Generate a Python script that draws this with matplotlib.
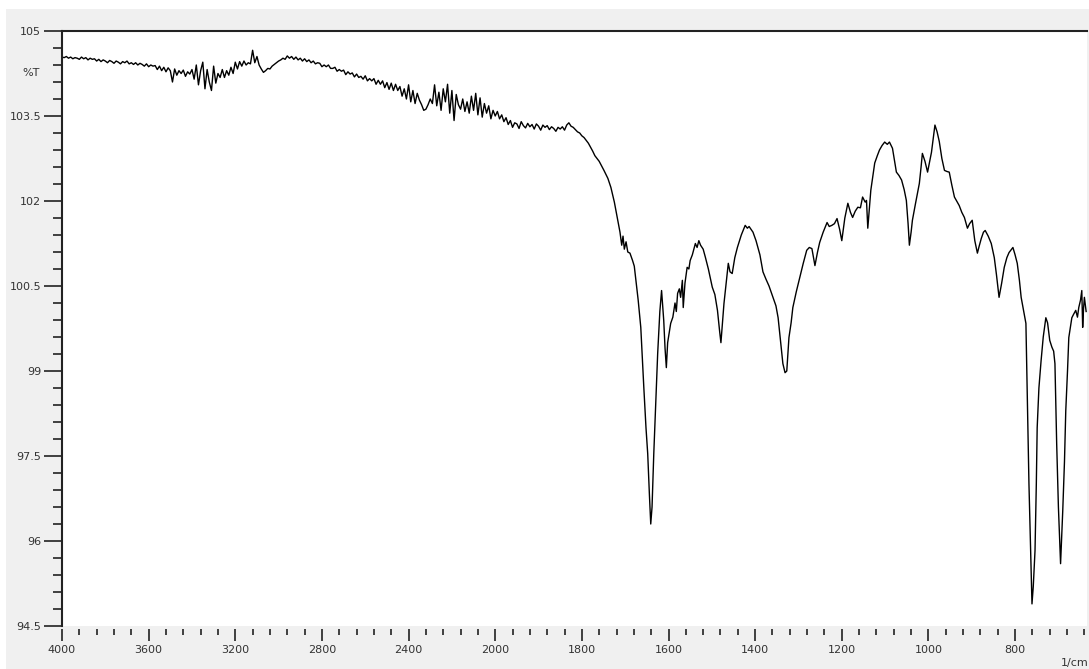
import numpy as np
import matplotlib
matplotlib.use("Agg")
import matplotlib.pyplot as plt
from matplotlib.patches import Rectangle
from matplotlib.ticker import FixedLocator, FixedFormatter

plt.rcParams['font.family'] = ['DejaVu Sans']

# --- FTIR spectrum: wavenumber (1/cm) vs. transmittance (%T) ---
# High-wavenumber part, 4000 -> 2000 cm-1 in 10 cm-1 steps
wn_hi = np.arange(4000, 1999, -10)
t_hi = [
    # 4000-3850
    104.54, 104.53, 104.55, 104.52, 104.54, 104.51, 104.53, 104.52, 104.50, 104.54,
    104.51, 104.53, 104.49, 104.52, 104.50, 104.51,
    # 3840-3580
    104.47, 104.50, 104.46, 104.49, 104.47, 104.44, 104.48, 104.46, 104.43, 104.47,
    104.45, 104.42, 104.46, 104.44, 104.47, 104.42, 104.44, 104.41, 104.44, 104.40,
    104.43, 104.41, 104.38, 104.42, 104.37, 104.40, 104.38,
    # 3570-3500
    104.39, 104.32, 104.38, 104.30, 104.36, 104.28, 104.35, 104.30,
    # 3490
    104.10,
    # 3480-3400
    104.33, 104.22, 104.30, 104.25, 104.31, 104.20, 104.28, 104.24, 104.32,
    # 3390-3270
    104.15, 104.40, 104.05, 104.30, 104.45, 103.98, 104.32, 104.10, 103.95, 104.38,
    104.08, 104.25, 104.18,
    # 3260-3210
    104.32, 104.18, 104.30, 104.22, 104.36, 104.25,
    # 3200-3130
    104.45, 104.33, 104.46, 104.38, 104.47, 104.40, 104.44, 104.42,
    # 3120-3100
    104.66, 104.44, 104.55,
    # 3090-2960
    104.40, 104.33, 104.27, 104.30, 104.34, 104.33, 104.38, 104.41, 104.44, 104.47,
    104.49, 104.52, 104.50, 104.56,
    # 2950-2850
    104.52, 104.55, 104.50, 104.54, 104.49, 104.52, 104.47, 104.51, 104.46, 104.49,
    104.44,
    # 2840-2450
    104.47, 104.42, 104.44, 104.43, 104.37, 104.40, 104.37, 104.40, 104.34, 104.34,
    104.36, 104.29, 104.32, 104.29, 104.31, 104.23, 104.28, 104.24, 104.26, 104.19,
    104.24, 104.18, 104.20, 104.15, 104.21, 104.12, 104.16, 104.12, 104.16, 104.06,
    104.13, 104.06, 104.12, 104.00, 104.09, 103.97, 104.08, 103.95, 104.06, 103.95,
    # 2440-2340
    104.02, 103.85, 103.98, 103.80, 104.05, 103.75, 103.95, 103.72, 103.90, 103.78,
    103.70,
    # 2330-2320
    103.60, 103.62,
    # 2310-2170
    103.70, 103.80, 103.72, 104.05, 103.68, 103.92, 103.60, 103.98, 103.75, 104.06,
    103.55, 103.95, 103.42, 103.88, 103.70,
    # 2160-2000
    103.62, 103.80, 103.58, 103.75, 103.55, 103.85, 103.60, 103.90, 103.52, 103.82,
    103.48, 103.72, 103.55, 103.68, 103.45, 103.60, 103.50,
]

# 1995 -> 1770 cm-1 in 5 cm-1 steps
wn_mid = np.arange(1995, 1769, -5)
t_mid = [
    103.58, 103.45, 103.52, 103.40, 103.47, 103.35, 103.42, 103.30, 103.38, 103.36,
    103.28, 103.40, 103.33, 103.29, 103.37, 103.31, 103.35, 103.27, 103.36, 103.32,
    103.25, 103.34, 103.30, 103.33, 103.26, 103.31, 103.28, 103.23, 103.30, 103.27,
    103.31, 103.25, 103.34, 103.38,
    103.32, 103.30, 103.26, 103.22, 103.20, 103.15, 103.12, 103.07, 103.02, 102.95,
    102.88, 102.80,
]

# Fingerprint / band region
wn_lo = [
    1760, 1749, 1740, 1733, 1725, 1717, 1712, 1708, 1705, 1702, 1698, 1694, 1689, 1683,
    1679, 1676, 1670, 1664, 1657, 1652, 1648, 1644, 1641, 1638, 1634, 1629, 1625, 1620,
    1616, 1613, 1611, 1608, 1605, 1602, 1598, 1595, 1590, 1585, 1582, 1579, 1575, 1572,
    1568, 1566, 1562, 1557, 1553, 1550, 1545, 1538, 1534, 1530, 1526, 1520, 1515, 1508,
    1499, 1493, 1487, 1482, 1479, 1476, 1472, 1467, 1462, 1458, 1453, 1447, 1441, 1432,
    1423, 1418, 1414, 1405, 1398, 1389, 1382, 1375, 1368, 1359, 1352, 1347, 1341, 1336,
    1331, 1327, 1322, 1317, 1313, 1305, 1297, 1289, 1281, 1275, 1269, 1262, 1256, 1251,
    1243, 1234, 1229, 1223, 1217, 1211, 1205, 1200, 1193, 1186, 1180, 1175, 1169, 1163,
    1157, 1152, 1146, 1143, 1140, 1136, 1133, 1128, 1124, 1118, 1113, 1107, 1101, 1095,
    1090, 1083, 1078, 1074, 1068, 1062, 1056, 1051, 1047, 1044, 1040, 1037, 1030, 1021,
    1017, 1014, 1008, 1002, 997, 993, 989, 985, 980, 975, 969, 963, 957, 952,
    946, 940, 935, 929, 923, 917, 913, 910, 905, 899, 893, 887, 883, 878,
    873, 869, 862, 855, 848, 843, 837, 831, 825, 819, 814, 805, 800, 795,
    790, 786, 780, 775, 772, 768, 764, 761, 758, 754, 751, 749, 745, 740,
    735, 729, 725, 720, 715, 711, 708, 704, 700, 695, 690, 686, 683, 679,
    676, 669, 665, 660, 656, 653, 649, 646, 644, 642, 640, 636,
]
t_lo = [
    102.70, 102.54, 102.40, 102.24, 101.98, 101.66, 101.45, 101.22, 101.38, 101.15, 101.28, 101.10, 101.08, 100.95,
    100.85, 100.65, 100.25, 99.77, 98.71, 98.00, 97.54, 96.80, 96.30, 96.60, 97.54, 98.50, 99.31, 100.05,
    100.42, 100.10, 99.89, 99.40, 99.06, 99.50, 99.70, 99.84, 99.95, 100.20, 100.05, 100.37, 100.45, 100.30,
    100.60, 100.12, 100.55, 100.83, 100.80, 100.95, 101.05, 101.25, 101.18, 101.30, 101.22, 101.15, 101.01, 100.80,
    100.48, 100.35, 100.07, 99.70, 99.50, 99.80, 100.19, 100.55, 100.90, 100.75, 100.72, 101.00, 101.18, 101.40,
    101.57, 101.52, 101.55, 101.45, 101.30, 101.05, 100.75, 100.62, 100.50, 100.30, 100.15, 99.94, 99.50, 99.13,
    98.97, 99.00, 99.59, 99.85, 100.12, 100.40, 100.65, 100.90, 101.13, 101.18, 101.16, 100.86, 101.10, 101.27,
    101.45, 101.62, 101.55, 101.57, 101.60, 101.69, 101.50, 101.30, 101.70, 101.96, 101.80, 101.71, 101.82, 101.89,
    101.88, 102.07, 101.98, 102.01, 101.52, 101.90, 102.19, 102.45, 102.67, 102.80, 102.90, 102.98, 103.04, 103.00,
    103.04, 102.93, 102.70, 102.51, 102.45, 102.37, 102.20, 102.01, 101.60, 101.22, 101.45, 101.66, 101.95, 102.31,
    102.60, 102.84, 102.70, 102.51, 102.70, 102.86, 103.10, 103.34, 103.22, 103.05, 102.75, 102.54, 102.52, 102.51,
    102.28, 102.07, 102.00, 101.92, 101.80, 101.71, 101.60, 101.52, 101.60, 101.66, 101.30, 101.08, 101.20, 101.34,
    101.45, 101.48, 101.38, 101.25, 101.00, 100.70, 100.30, 100.55, 100.83, 101.00, 101.09, 101.18, 101.05, 100.90,
    100.60, 100.30, 100.05, 99.84, 98.60, 97.01, 95.80, 94.89, 95.20, 95.83, 97.00, 98.00, 98.70, 99.18,
    99.60, 99.94, 99.85, 99.54, 99.42, 99.35, 99.13, 97.72, 96.60, 95.60, 96.53, 97.40, 98.30, 99.00,
    99.59, 99.94, 100.00, 100.07, 99.95, 100.12, 100.25, 100.42, 99.77, 100.10, 100.30, 100.05,
]

wavenumber = np.concatenate([wn_hi, wn_mid, wn_lo])
transmittance = np.concatenate([t_hi, t_mid, t_lo])

x_major = [4000, 3600, 3200, 2800, 2400, 2000, 1800, 1600, 1400, 1200, 1000, 800]
y_major = [105, 103.5, 102, 100.5, 99, 97.5, 96, 94.5]
y_labels = ["105", "103.5", "102", "100.5", "99", "97.5", "96", "94.5"]


# Wavenumber axis: the range above 2000 1/cm is drawn at half the scale
def fwd(x):
    x = np.asarray(x, dtype=float)
    return np.where(x > 2000, 2000 + (x - 2000) / 2.0, x)


def inv(u):
    u = np.asarray(u, dtype=float)
    return np.where(u > 2000, 2000 + (u - 2000) * 2.0, u)


W, H = 1089, 669
fig = plt.figure(figsize=(W / 100, H / 100), dpi=100)
fig.patch.set_facecolor('white')
fig.patches.append(Rectangle((6 / W, 0), 1, 1 - 9 / H, transform=fig.transFigure,
                             facecolor='#f0f0f0', edgecolor='none', zorder=-10))

ax = fig.add_axes([62 / W, 43 / H, (1087 - 62) / W, (626 - 31) / H])
ax.set_facecolor('white')
ax.set_xscale('function', functions=(fwd, inv))
ax.plot(wavenumber, transmittance, color='black', lw=1.0)

ax.set_xlim(4000, 634)
ax.set_ylim(94.5, 105)

x_minor = [v for v in range(3920, 2000, -80) if v % 400 != 0] + \
          [v for v in range(1960, 630, -40) if v % 200 != 0]
ax.xaxis.set_major_locator(FixedLocator(x_major))
ax.xaxis.set_major_formatter(FixedFormatter([str(v) for v in x_major]))
ax.xaxis.set_minor_locator(FixedLocator(x_minor))

y_minor = [94.5 + 0.3 * i for i in range(36) if i % 5 != 0]
ax.yaxis.set_major_locator(FixedLocator(y_major))
ax.yaxis.set_major_formatter(FixedFormatter(y_labels))
ax.yaxis.set_minor_locator(FixedLocator(y_minor))

tick_color = '#222222'
label_color = '#333333'
ax.tick_params(axis='y', which='major', direction='out', length=13, width=1.2,
               pad=2, labelsize=8, colors=tick_color, labelcolor=label_color)
ax.tick_params(axis='y', which='minor', direction='out', length=6.5, width=1.2,
               colors=tick_color)
ax.tick_params(axis='x', which='major', direction='out', length=8.6, width=1.2,
               pad=3, labelsize=8, colors=tick_color, labelcolor=label_color)
ax.tick_params(axis='x', which='minor', direction='out', length=4.3, width=1.2,
               colors=tick_color)

for side in ('left', 'top'):
    ax.spines[side].set_linewidth(1.5)
    ax.spines[side].set_color(tick_color)
ax.spines['right'].set_visible(False)
ax.spines['bottom'].set_position(('outward', 2))
ax.spines['bottom'].set_color('none')

fig.text(40 / W, 1 - 73 / H, '%T', ha='right', va='center', fontsize=8, color=label_color)
fig.text(1061 / W, 1 - 663 / H, '1/cm', ha='left', va='center', fontsize=8, color=label_color)

fig.savefig('out.png', dpi=100, facecolor=fig.get_facecolor())
